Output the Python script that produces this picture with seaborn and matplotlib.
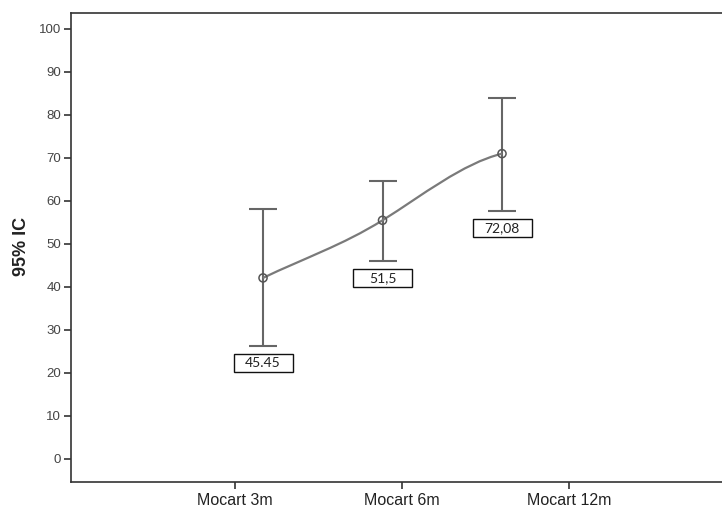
import numpy as np
import pandas as pd
import matplotlib
matplotlib.use("Agg")
import matplotlib.pyplot as plt
import matplotlib.transforms as mtransforms
from matplotlib.path import Path
from matplotlib.patches import PathPatch, Rectangle
import seaborn as sns

# valores (IC 95%)
categorias = ["Mocart 3m", "Mocart 6m", "Mocart 12m"]
media = [42.1, 55.5, 71.0]
ic_inferior = [26.3, 46.1, 57.7]
ic_superior = [58.1, 64.7, 83.9]
rotulos = ["45.45", "51,5", "72,08"]

df = pd.DataFrame({
    "grupo": categorias,
    "media": media,
    "inf": ic_inferior,
    "sup": ic_superior,
    "rotulo": rotulos,
})
df["pos"] = np.arange(len(df))

sns.set_style("white")
plt.rcParams["font.family"] = ["Liberation Sans", "DejaVu Sans"]

fig = plt.figure(figsize=(7.22, 5.09), dpi=100)
ax = fig.add_axes([71 / 722, 27 / 509, 651 / 722, 469 / 509])

# eixo das categorias
ax.set_xticks(df["pos"])
ax.set_xticklabels(df["grupo"])
ax.set_yticks(range(0, 101, 10))
ax.tick_params(axis="y", direction="out", length=5, width=1.2, color="#333333",
               labelsize=9.5, labelcolor="#444444", pad=2, left=True)
ax.tick_params(axis="x", direction="out", length=5, width=1.2, color="#333333",
               labelsize=11.5, labelcolor="#222222", pad=3, bottom=True)
for lado in ["left", "top", "bottom"]:
    ax.spines[lado].set_color("#333333")
    ax.spines[lado].set_linewidth(1.2)
ax.spines["right"].set_visible(False)
ax.set_xlabel("")
ax.set_ylabel("")

# eixo das barras de erro (deslocado em relação às categorias, como no original)
ax2 = ax.twiny()
ax2.set_xticks([])
for lado in ax2.spines:
    ax2.spines[lado].set_visible(False)

ax2.errorbar(df["pos"], df["media"],
             yerr=[df["media"] - df["inf"], df["sup"] - df["media"]],
             fmt="none", ecolor="#666666", elinewidth=1.5, capsize=10.4, capthick=1.5,
             zorder=2)

# curva suave ligando as médias (Hermite cúbica -> Bézier)
pts = df[["pos", "media"]].to_numpy(dtype=float)
cordas = np.diff(pts, axis=0)
tang = np.array([cordas[0] * [1, 1.0],
                 (cordas[0] + cordas[1]) / 2 * [1, 1.2],
                 cordas[1] * [1, 0.45]])
verts = [tuple(pts[0])]
codes = [Path.MOVETO]
for i in range(len(pts) - 1):
    verts += [tuple(pts[i] + tang[i] / 3), tuple(pts[i + 1] - tang[i + 1] / 3), tuple(pts[i + 1])]
    codes += [Path.CURVE4] * 3
ax2.add_patch(PathPatch(Path(verts, codes), facecolor="none", edgecolor="#7a7a7a",
                        lw=1.6, zorder=3))

sns.scatterplot(data=df, x="pos", y="media", ax=ax2, s=34, marker="o",
                facecolor="none", edgecolor="#555555", linewidth=1.1, zorder=4, legend=False)
ax2.set_xlabel("")
ax2.set_ylabel("")

# caixas com os valores abaixo de cada barra
for _, r in df.iterrows():
    tr = mtransforms.Affine2D() + mtransforms.ScaledTranslation(r["pos"], r["inf"], ax2.transData)
    ax2.add_patch(Rectangle((-29.5, -8.5 - 18), 59, 18, transform=tr, facecolor="white",
                            edgecolor="#111111", lw=1.0, zorder=5, clip_on=False))
    ax2.text(0, -8.5 - 9, r["rotulo"], transform=tr, ha="center", va="center",
             fontsize=10, color="#222222", family=["Lato", "DejaVu Sans"], zorder=6,
             clip_on=False)

ax.set_xlim(-0.982, 2.916)
ax.set_ylim(-5.35, 103.7)
ax2.set_xlim(-1.607, 3.841)

fig.text(21 / 722, 1 - 246 / 509, "95% IC", rotation=90, ha="center", va="center",
         fontsize=13, fontweight="bold", color="#222222")

fig.savefig("out.png", dpi=100, facecolor="white")
